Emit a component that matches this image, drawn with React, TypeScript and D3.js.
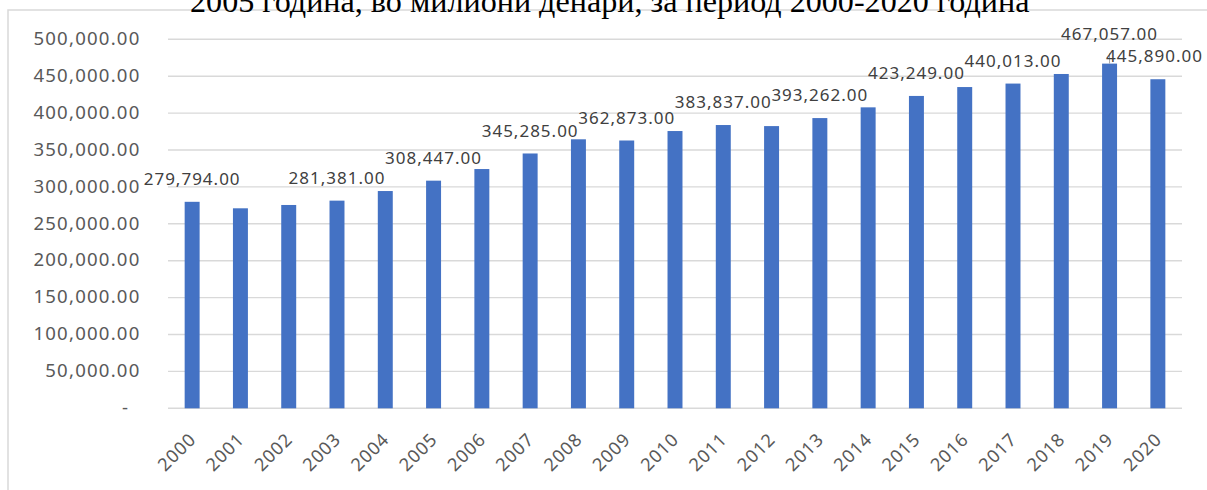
import React, { useEffect, useRef } from "react";
import * as d3 from "d3";

const years = [
  "2000", "2001", "2002", "2003", "2004", "2005", "2006", "2007", "2008", "2009", "2010",
  "2011", "2012", "2013", "2014", "2015", "2016", "2017", "2018", "2019", "2020",
];
const gdp = [
  279794, 271000, 275500, 281381, 294400, 308447, 324200, 345285, 364500, 362873, 375700,
  383837, 382400, 393262, 407800, 423249, 435300, 440013, 453000, 467057, 445890,
];
const labeledYears = ["2000", "2003", "2005", "2007", "2009", "2011", "2013", "2015", "2017", "2019", "2020"];
const yTicks = [0, 50000, 100000, 150000, 200000, 250000, 300000, 350000, 400000, 450000, 500000];
const titleText = "2005 година, во милиони денари, за период 2000-2020 година";

export default function App() {
  const ref = useRef<SVGSVGElement>(null);

  useEffect(() => {
    const svg = d3.select(ref.current);
    svg.selectAll("*").remove();

    const left = 168, right = 1182, top = 39.3, bottom = 408.3;
    const x = d3.scaleBand<string>().domain(years).range([left, right]).paddingInner(0.69).paddingOuter(0.345);
    const y = d3.scaleLinear().domain([0, 500000]).range([bottom, top]);
    const fmt = d3.format(",.2f");
    const sans = "'Noto Sans', 'Open Sans', sans-serif";

    // chart frame
    svg.append("rect")
      .attr("x", 8).attr("y", 10).attr("width", 1240).attr("height", 520)
      .attr("fill", "#fff").attr("stroke", "#d9d9d9").attr("stroke-width", 1.5);

    // gridlines
    svg.append("g").selectAll("line").data(yTicks).join("line")
      .attr("x1", left).attr("x2", right)
      .attr("y1", (d) => y(d)).attr("y2", (d) => y(d))
      .attr("stroke", "#d9d9d9").attr("stroke-width", 1.4);

    // y tick labels
    svg.append("g").selectAll("text").data(yTicks).join("text")
      .attr("x", (d) => (d === 0 ? 129.3 : 140.5))
      .attr("y", (d) => y(d) + 5.7)
      .attr("text-anchor", "end")
      .attr("font-family", sans).attr("font-size", 18.6)
      .attr("letter-spacing", 1.2)
      .attr("fill", "#595959")
      .text((d) => (d === 0 ? "-" : fmt(d)));

    // bars
    svg.append("g").selectAll("rect").data(years).join("rect")
      .attr("x", (d) => x(d)!)
      .attr("width", x.bandwidth())
      .attr("y", (d, i) => y(gdp[i]))
      .attr("height", (d, i) => bottom - y(gdp[i]))
      .attr("fill", "#4472C4");

    // x labels
    svg.append("g").selectAll("text").data(years).join("text")
      .attr("transform", (d) => `translate(${x(d)! + x.bandwidth() / 2 + 5},440.5) rotate(-45)`)
      .attr("text-anchor", "end")
      .attr("font-family", sans).attr("font-size", 18)
      .attr("letter-spacing", 0.95)
      .attr("fill", "#595959")
      .text((d) => d);

    // data labels
    const lifted: Record<string, number> = { "2019": 7 };
    const lg = svg.append("g");
    labeledYears.forEach((yr) => {
      const i = years.indexOf(yr);
      const cx = x(yr)! + x.bandwidth() / 2;
      const barTop = y(gdp[i]);
      const lift = lifted[yr] || 0;
      const by = barTop - 16.8 - lift;
      const t = lg.append("text")
        .attr("x", cx).attr("y", by)
        .attr("text-anchor", "middle")
        .attr("font-family", sans).attr("font-size", 17)
        .attr("letter-spacing", 1.0)
        .attr("fill", "#404040")
        .text(fmt(gdp[i]));
      const w = (t.node() as SVGTextElement).getComputedTextLength();
      if (cx + w / 2 > 1203) {
        t.attr("text-anchor", "end").attr("x", 1203);
      }
      if (lift) {
        lg.append("line")
          .attr("x1", cx).attr("x2", cx)
          .attr("y1", by + 13.4).attr("y2", barTop)
          .attr("stroke", "#a6a6a6").attr("stroke-width", 1);
      }
    });

    // title (document text above chart, partially cut off)
    const title = svg.append("text")
      .attr("x", 190).attr("y", 12)
      .attr("font-family", "'Liberation Serif', 'Times New Roman', serif")
      .attr("font-size", 32)
      .attr("fill", "#000")
      .text(titleText);
    const tw = (title.node() as SVGTextElement).getComputedTextLength();
    if (tw > 0) title.attr("font-size", (32 * 840) / tw);
  }, []);

  return (
    <svg
      ref={ref}
      width={1207}
      height={490}
      style={{ position: "absolute", left: 0, top: 0, display: "block", background: "#fff" }}
    />
  );
}
